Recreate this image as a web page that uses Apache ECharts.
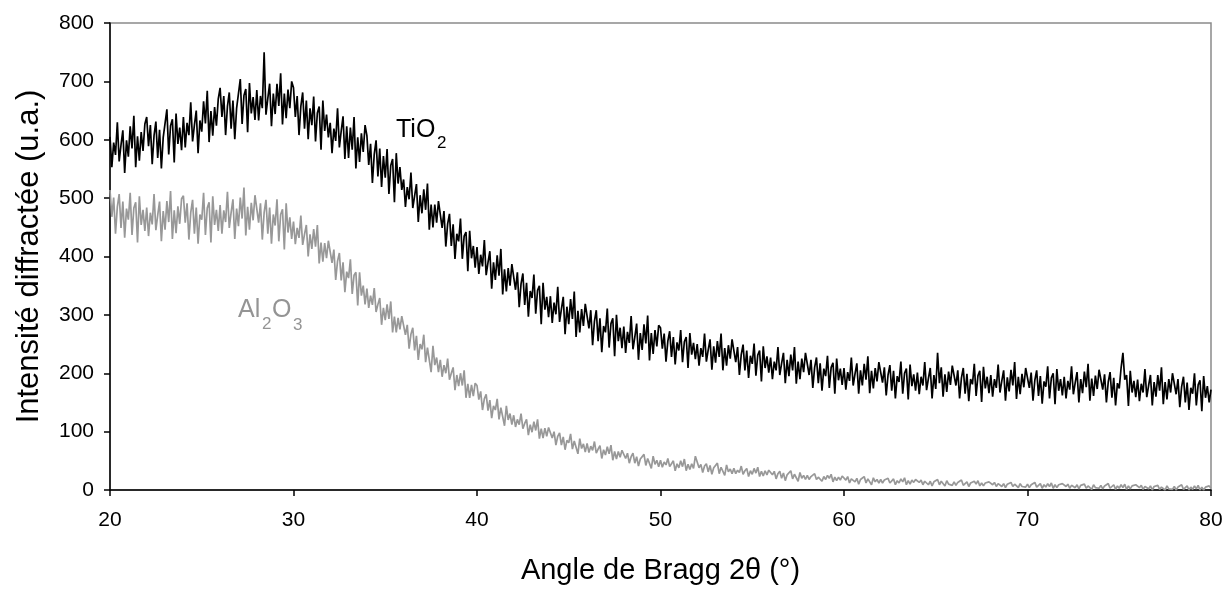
<!DOCTYPE html>
<html>
<head>
<meta charset="utf-8">
<script src="https://cdn.jsdelivr.net/npm/echarts@6/dist/echarts.min.js"></script>
<style>
html,body{margin:0;padding:0;background:#fff;}
#chart{width:1226px;height:590px;}
</style>
</head>
<body>
<div id="chart"></div>
<script>
// Diffractogram sampled every 0.1 degree from 20 to 80 (2-theta)
const angleStart = 20;
const angleStep = 0.1;

const tio2 = [
605,553,595,574,630,563,591,616,543,599,
571,623,585,641,553,606,564,613,581,627,
639,589,625,558,607,631,569,617,551,604,
603,652,575,624,635,561,645,593,621,582,
639,587,629,608,664,597,625,650,577,633,
614,666,628,684,596,649,607,656,624,670,
689,639,675,608,657,681,619,667,601,654,
655,704,627,676,687,613,697,645,673,634,
685,633,675,654,750,643,671,696,623,679,
644,696,658,714,626,679,637,686,654,700,
689,639,675,608,657,681,619,667,601,654,
625,674,597,646,657,583,667,615,643,604,
629,577,619,598,654,587,615,640,567,623,
569,621,583,639,551,604,562,611,579,625,
607,557,593,526,575,599,537,585,519,572,
535,584,507,556,567,493,577,525,553,514,
532,485,519,498,544,483,504,524,459,505,
474,515,480,525,446,489,450,489,458,495,
496,449,478,417,456,473,418,455,396,439,
426,465,396,435,442,375,444,397,418,381,
416,370,403,383,428,368,390,409,345,390,
360,402,367,413,335,378,340,380,350,387,
389,343,373,313,353,371,317,355,297,341,
329,369,302,342,350,284,355,309,331,296,
332,286,321,301,348,288,310,331,267,314,
284,327,293,340,262,307,270,310,281,319,
322,277,308,248,289,308,255,294,236,281,
270,311,244,285,294,229,300,255,278,243,
280,235,271,252,298,241,262,285,223,269,
240,284,251,299,222,269,233,274,246,282,
278,242,268,220,255,272,228,262,215,253,
239,274,219,254,262,209,269,232,252,224,
250,213,243,228,268,220,240,258,206,246,
218,255,228,268,205,243,213,248,225,258,
255,219,245,197,232,249,205,239,192,230,
216,251,196,231,239,186,246,209,229,201,
227,190,220,205,245,197,217,235,183,223,
195,232,205,245,182,220,190,225,202,235,
233,197,223,175,210,227,183,217,170,208,
195,230,175,210,218,165,225,188,208,180,
209,172,202,187,227,179,199,217,165,205,
179,216,189,229,166,204,174,209,186,219,
220,184,210,162,197,214,170,204,157,195,
185,220,165,200,208,155,215,178,198,170,
201,164,194,179,219,171,191,209,157,197,
173,235,183,210,160,198,168,203,180,213,
215,179,205,157,192,209,165,199,152,190,
181,216,161,196,204,151,211,174,194,166,
197,160,190,175,215,167,187,205,153,193,
169,206,179,219,156,194,164,199,176,209,
211,175,201,153,188,205,161,195,148,186,
177,212,157,192,200,147,207,170,190,162,
194,157,187,172,212,164,184,202,150,190,
166,203,176,216,153,191,161,196,173,206,
208,172,198,150,185,202,158,192,145,183,
174,209,235,189,197,144,204,167,187,159,
189,152,182,167,207,159,179,197,145,185,
160,197,170,210,147,185,155,190,167,200,
200,164,190,142,177,194,150,184,137,175,
165,200,145,180,188,135,195,158,178,150,
172
];

const al2o3 = [
514,468,501,439,485,507,449,494,432,482,
463,509,437,483,493,424,503,454,480,444,
484,435,475,455,507,445,471,494,426,478,
446,495,459,512,430,479,440,486,456,499,
504,458,491,429,475,497,439,484,422,472,
463,509,437,483,493,424,503,454,480,444,
488,439,479,459,511,449,475,498,430,482,
452,501,465,518,436,485,446,492,462,505,
504,458,491,429,475,497,439,484,422,472,
453,498,426,472,481,412,491,441,467,430,
460,421,449,432,470,420,438,454,400,438,
413,447,417,454,388,424,391,423,397,427,
428,389,412,360,392,406,359,390,339,374,
363,395,336,368,373,316,373,333,350,318,
345,312,333,317,346,305,318,329,283,312,
291,318,293,323,270,297,270,295,275,298,
297,266,283,242,267,278,239,264,223,250,
241,266,219,244,247,202,247,214,227,202,
223,194,214,200,225,189,200,210,171,197,
178,200,179,205,158,182,158,180,161,183,
179,155,169,137,156,164,136,154,123,144,
137,156,121,141,144,110,144,120,131,112,
128,108,121,112,131,105,114,121,94,112,
99,117,102,121,88,105,89,106,92,107,
107,89,100,77,92,98,77,91,69,85,
81,96,70,84,87,62,88,71,79,65,
80,64,75,68,83,63,70,76,54,69,
60,74,62,77,51,66,53,66,56,68,
68,54,63,46,57,63,46,57,41,53,
50,61,42,54,56,37,58,44,51,40,
51,39,48,43,54,40,45,50,33,45,
38,50,40,53,33,44,35,45,37,58,
48,38,44,30,41,45,31,42,27,38,
35,46,28,39,41,25,43,31,36,28,
37,28,34,30,41,27,33,37,23,33,
27,37,29,39,23,32,24,33,26,34,
35,26,32,19,28,32,20,29,16,26,
24,33,19,27,29,15,30,20,25,18,
25,18,23,20,28,18,22,25,15,23,
18,25,20,27,14,22,16,22,17,24,
25,17,23,12,19,22,14,20,10,18,
16,23,12,19,21,9,21,14,18,12,
18,12,17,14,20,12,15,19,9,16,
12,19,14,21,9,16,10,17,13,18,
19,13,17,9,15,17,9,15,7,14,
12,18,9,15,16,7,16,10,13,8,
14,8,13,10,17,8,11,14,6,12,
9,15,10,16,7,12,7,12,9,14,
14,9,13,6,11,12,6,11,4,10,
8,13,6,10,12,4,11,6,9,5,
10,4,9,6,13,5,8,11,3,9,
5,11,6,12,3,9,4,9,6,11,
11,6,10,3,8,10,4,9,2,8,
5,10,3,7,9,1,9,4,7,3,
8,2,7,4,11,3,6,9,1,7,
3,9,4,10,1,7,2,7,4,9,
9,4,8,1,6,8,2,7,0,6,
3,8,1,5,7,0,7,2,5,1,
6,0,5,2,9,1,4,7,0,5,
1,7,2,8,0,5,0,5,2,7,
3
];

const xTicks = [20, 30, 40, 50, 60, 70, 80];
const yTicks = [0, 100, 200, 300, 400, 500, 600, 700, 800];
const seriesNames = ['TiO2', 'Al2O3'];

function pairs(vals) {
  return vals.map((v, i) => [+(angleStart + i * angleStep).toFixed(2), v]);
}

const FONT = '"Liberation Sans", Arial, sans-serif';
const chart = echarts.init(document.getElementById('chart'), null, {renderer: 'canvas'});

const axisCommon = {
  type: 'value',
  splitLine: {show: false},
  axisLine: {show: true, onZero: false, lineStyle: {color: '#000', width: 1.5}},
  axisTick: {show: true, inside: false, length: 6, lineStyle: {color: '#000', width: 1.5}},
  axisLabel: {color: '#000', fontSize: 21, fontFamily: FONT},
  nameLocation: 'middle'
};

function label(x, y, txt, size, color) {
  return {type: 'text', x: x, y: y, z: 10,
    style: {text: txt, fill: color, fontSize: size, fontFamily: FONT}};
}

chart.setOption({
  animation: false,
  backgroundColor: '#fff',
  grid: {left: 110, right: 15, top: 23, bottom: 98, show: true, borderColor: '#8a8a8a', borderWidth: 1.5},
  xAxis: Object.assign({}, axisCommon, {
    min: xTicks[0], max: xTicks[xTicks.length - 1], interval: 10,
    name: 'Angle de Bragg 2θ (°)', nameGap: 66,
    nameTextStyle: {color: '#000', fontSize: 29, fontFamily: FONT},
    axisLabel: Object.assign({}, axisCommon.axisLabel, {margin: 20})
  }),
  yAxis: Object.assign({}, axisCommon, {
    min: yTicks[0], max: yTicks[yTicks.length - 1], interval: 100,
    name: 'Intensité diffractée (u.a.)', nameGap: 65,
    nameTextStyle: {color: '#000', fontSize: 31, fontFamily: FONT},
    axisLabel: Object.assign({}, axisCommon.axisLabel, {margin: 16})
  }),
  series: [
    {name: seriesNames[1], type: 'line', data: pairs(al2o3), showSymbol: false, symbol: 'none',
     lineStyle: {color: '#989898', width: 1.7}, z: 2},
    {name: seriesNames[0], type: 'line', data: pairs(tio2), showSymbol: false, symbol: 'none',
     lineStyle: {color: '#000', width: 1.7}, z: 3}
  ],
  graphic: [
    label(396, 118, 'TiO', 25, '#000'),
    label(437, 135, '2', 17, '#000'),
    label(238, 298, 'Al', 25, '#949494'),
    label(262, 316, '2', 17, '#949494'),
    label(272, 298, 'O', 25, '#949494'),
    label(293, 317, '3', 17, '#949494')
  ]
});
</script>
</body>
</html>
